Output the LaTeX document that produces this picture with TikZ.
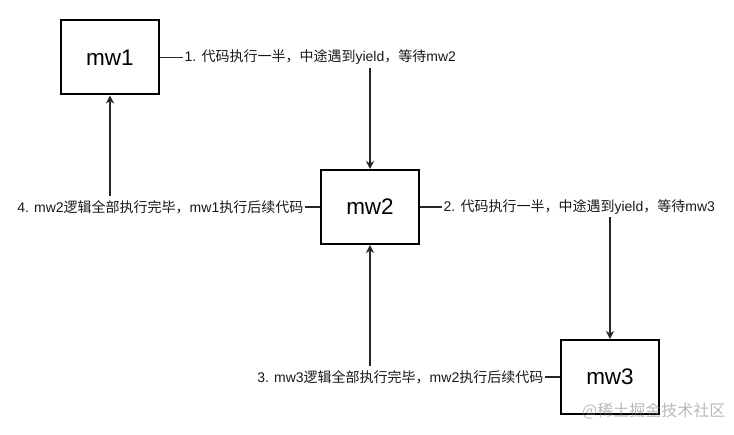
\documentclass[tikz,border=0pt]{standalone}
\usepackage{fontspec}
\setmainfont{Liberation Sans}
\newfontfamily\cjk{Noto Sans CJK SC}
\usetikzlibrary{arrows.meta,calc}
\newcommand\zh[1]{{\cjk #1}}
\begin{document}
\begin{tikzpicture}[x=1pt,y=-1pt,
  box/.style={draw=black, line width=2pt, minimum width=98pt, minimum height=74pt, inner sep=0pt, font=\fontsize{22.5}{26}\selectfont},
  conn/.style={line width=1.4pt, draw=black!85, -{Stealth[length=8pt,width=8pt,inset=2.5pt]}},
  lbl/.style={fill=white, inner xsep=1.5pt, inner ysep=0pt, minimum height=21pt, font=\fontsize{14}{16}\selectfont, text=black!90}]
\useasboundingbox (0,0) rectangle (734,435);
\node[box] (mw1) at (110,57.5) {mw1};
\node[box] (mw2) at (370,207) {mw2};
\node[box] (mw3) at (610,377) {mw3};

\draw[conn] (mw1.east) -| (mw2.north);
\draw[conn] (mw2.west) -| (mw1.south);
\draw[conn] (mw2.east) -| (mw3.north);
\draw[conn] (mw3.west) -| (mw2.south);

\node[lbl, anchor=west] (l1) at ($(mw1.east)+(23,0)$) {1. \zh{代码执行一半，中途遇到}yield\zh{，等待}mw2};
\node[lbl, anchor=east] (l4) at ($(mw2.west)+(-15,0)$) {4. mw2\zh{逻辑全部执行完毕，}mw1\zh{执行后续代码}};
\node[lbl, anchor=west] (l2) at ($(mw2.east)+(22,0)$) {2. \zh{代码执行一半，中途遇到}yield\zh{，等待}mw3};
\node[lbl, anchor=east] (l3) at ($(mw3.west)+(-15,0)$) {3. mw3\zh{逻辑全部执行完毕，}mw2\zh{执行后续代码}};

\node[anchor=west, inner sep=0pt, text=gray, opacity=0.55, font=\cjk\fontsize{16}{18}\selectfont] (wm) at (582,411) {@稀土掘金技术社区};
\end{tikzpicture}
\end{document}
